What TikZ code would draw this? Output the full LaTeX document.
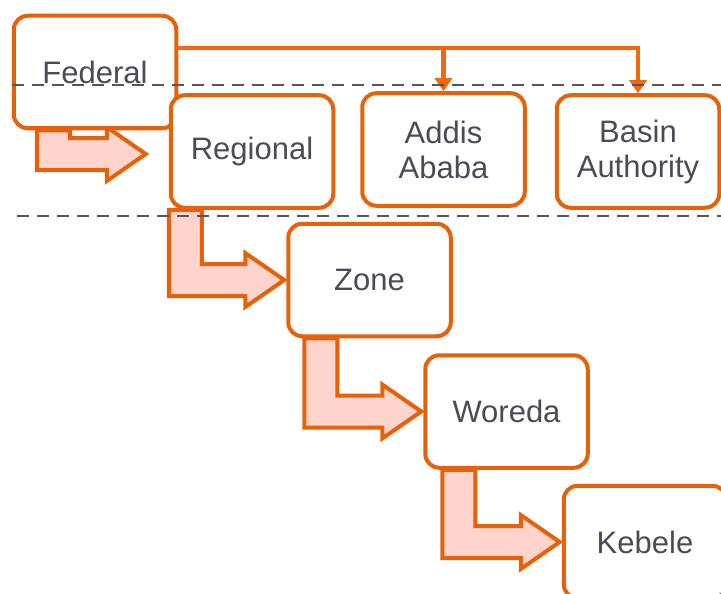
\documentclass[tikz,border=0pt]{standalone}
\usepackage{fontspec}
\setmainfont{Liberation Sans}
\usetikzlibrary{arrows.meta,calc,backgrounds}
\definecolor{boxor}{RGB}{230,97,10}
\definecolor{connor}{RGB}{242,104,12}
\definecolor{pinkf}{RGB}{255,212,204}
\definecolor{txt}{RGB}{75,75,88}
\definecolor{sepc}{RGB}{85,85,98}
\tikzset{
 lvl/.style={draw=boxor, line width=4pt, fill=white, rounded corners=14pt, minimum width=162.5pt, minimum height=112.5pt, inner sep=0pt, text=txt, font=\fontsize{31}{35}\selectfont, align=center},
 benta/.style={draw=boxor, line width=4pt, fill=pinkf, line join=miter},
 conn/.style={draw=connor, line width=4.5pt, -{Triangle[width=17pt,length=13pt]}},
 sepline/.style={draw=sepc, line width=2.3pt, dash pattern=on 12pt off 8pt},
}
\newcommand\bentarr[5]{%
 \path[benta] let \p1=([xshift=#3]#1.south west), \p2=([xshift=#4,yshift=#5]#2.west) in
 (\x1,\y1) -- (\x1+33pt,\y1) -- (\x1+33pt,\y2+16pt) -- (\x2-39pt,\y2+16pt) -- (\x2-39pt,\y2+27pt) -- (\p2) -- (\x2-39pt,\y2-27pt) -- (\x2-39pt,\y2-16pt) -- (\x1,\y2-16pt) -- cycle;}
\begin{document}
\begin{tikzpicture}[x=1pt,y=-1pt]
\useasboundingbox (0,0) rectangle (721,594);
\node[lvl] (fed) at (95,72) {Federal};
\node[lvl] (reg) at (252,151.5) {Regional};
\node[lvl] (addis) at (443.5,149.5) {Addis\\Ababa};
\node[lvl] (basin) at (638,151.5) {Basin\\Authority};
\node[lvl] (zone) at (369.5,280) {Zone};
\node[lvl] (wor) at (506.5,411.5) {Woreda};
\node[lvl] (keb) at (645,542) {Kebele};
\begin{scope}[on background layer]
\bentarr{fed}{reg}{25pt}{-23pt}{-2.5pt}
\bentarr{reg}{zone}{0pt}{-2pt}{0pt}
\bentarr{zone}{wor}{18pt}{-2pt}{0pt}
\bentarr{wor}{keb}{19pt}{-2pt}{0pt}
\end{scope}
\coordinate (fj) at ([yshift=24pt]fed.east);
\draw[conn] (fj) -| (basin.north);
\draw[conn] (addis.north |- fj) -- (addis.north);
\coordinate (s1a) at (12,85);
\coordinate (s1b) at (721,85);
\coordinate (s2a) at (17,216);
\coordinate (s2b) at (721,216);
\draw[sepline] (s1a) -- (s1b);
\draw[sepline] (s2a) -- (s2b);
\end{tikzpicture}
\end{document}
